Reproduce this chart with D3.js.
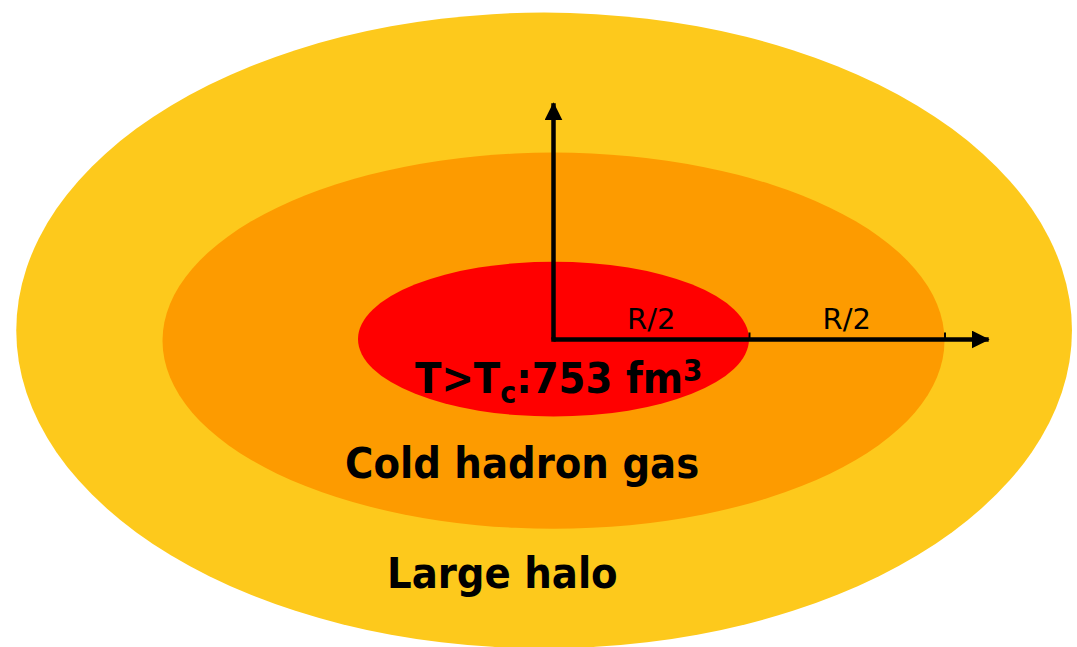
<!DOCTYPE html>
<html>
<head>
<meta charset="utf-8">
<script src="https://cdn.jsdelivr.net/npm/d3@7"></script>
<style>
  html, body { margin: 0; padding: 0; background: #ffffff; }
  svg { display: block; }
</style>
</head>
<body>
<svg id="chart" width="1077" height="647"></svg>
<script>
// ---- data (in units of R) ----
const regionNames   = ["Large halo", "Cold hadron gas", "T>Tc"];
const regionCx      = [-0.024, 0.0, 0.0];
const regionCy      = [0.023, -0.003, 0.001];
const regionRx      = [1.35, 1.0, 0.5];
const regionRy      = [0.813, 0.481, 0.198];
const regionColors  = ["#FDC91C", "#FD9B00", "#FF0000"];
const tickValues    = [0.5, 1.0];
const segmentLabels = ["R/2", "R/2"];
const segmentCenters = [0.25, 0.75];
const axisXEnd = 1.113;
const axisYEnd = 0.604;
const hotVolume = 753;

const svg = d3.select("#chart");

const x = d3.scaleLinear().domain([0, 1]).range([553.5, 944.5]);
const y = d3.scaleLinear().domain([0, 1]).range([339.5, 339.5 - 391]);
const kx = x(1) - x(0);
const ky = y(0) - y(1);

const regions = regionNames.map((n, i) => ({
  name: n, cx: regionCx[i], cy: regionCy[i], rx: regionRx[i], ry: regionRy[i], color: regionColors[i]
}));

svg.append("g").selectAll("ellipse")
  .data(regions)
  .join("ellipse")
  .attr("cx", d => x(d.cx))
  .attr("cy", d => y(d.cy))
  .attr("rx", d => d.rx * kx)
  .attr("ry", d => d.ry * ky)
  .attr("fill", d => d.color);

// arrow markers
const defs = svg.append("defs");
defs.append("marker")
  .attr("id", "arrow")
  .attr("viewBox", "0 0 18 18")
  .attr("refX", 17).attr("refY", 9)
  .attr("markerWidth", 18).attr("markerHeight", 18)
  .attr("markerUnits", "userSpaceOnUse")
  .attr("orient", "auto")
  .append("path")
  .attr("d", "M0,0 L18,9 L0,18 Z")
  .attr("fill", "#000");

// horizontal axis with ticks
const xAxis = d3.axisTop(x)
  .tickValues(tickValues)
  .tickSize(7)
  .tickFormat("");
const gx = svg.append("g").attr("transform", `translate(0,${y(0)})`).call(xAxis);
gx.select(".domain").remove();
gx.selectAll(".tick line").attr("stroke", "#000").attr("stroke-width", 2);

const axisLine = [
  [[x(0), y(0)], [x(axisXEnd), y(0)]],
  [[x(0), y(0)], [x(0), y(axisYEnd)]]
];
svg.append("g").selectAll("path")
  .data(axisLine)
  .join("path")
  .attr("d", d => d3.line()(d))
  .attr("stroke", "#000")
  .attr("stroke-width", 4.5)
  .attr("fill", "none")
  .attr("marker-end", "url(#arrow)");
svg.append("rect")
  .attr("x", x(0) - 2.25).attr("y", y(0) - 2.25)
  .attr("width", 4.5).attr("height", 4.5)
  .attr("fill", "#000");

// segment labels
svg.append("g").selectAll("text")
  .data(segmentLabels)
  .join("text")
  .attr("x", (d, i) => x(segmentCenters[i]))
  .attr("y", y(0) - 11)
  .attr("text-anchor", "middle")
  .attr("font-family", "'DejaVu Sans', Verdana, sans-serif")
  .attr("font-size", 29)
  .attr("fill", "#000")
  .text(d => d);

// region labels
const boldFont = "'DejaVu Sans Condensed', 'DejaVu Sans', sans-serif";
const hot = svg.append("text")
  .attr("x", 415)
  .attr("y", 393)
  .attr("font-family", boldFont)
  .attr("font-stretch", "condensed")
  .attr("font-weight", "bold")
  .attr("font-size", 43)
  .attr("fill", "#000");
hot.append("tspan").text("T>T");
hot.append("tspan").attr("font-size", 30).attr("dy", 10).text("c");
hot.append("tspan").attr("dy", -10).text(":" + hotVolume + " fm");
hot.append("tspan").attr("font-size", 31).attr("dy", -12).text("3");

svg.append("text")
  .attr("x", 345).attr("y", 478)
  .attr("font-family", boldFont)
  .attr("font-stretch", "condensed")
  .attr("font-weight", "bold")
  .attr("font-size", 43)
  .attr("fill", "#000")
  .text(regionNames[1]);

svg.append("text")
  .attr("x", 387).attr("y", 588)
  .attr("font-family", boldFont)
  .attr("font-stretch", "condensed")
  .attr("font-weight", "bold")
  .attr("font-size", 43)
  .attr("fill", "#000")
  .text(regionNames[0]);
</script>
</body>
</html>
